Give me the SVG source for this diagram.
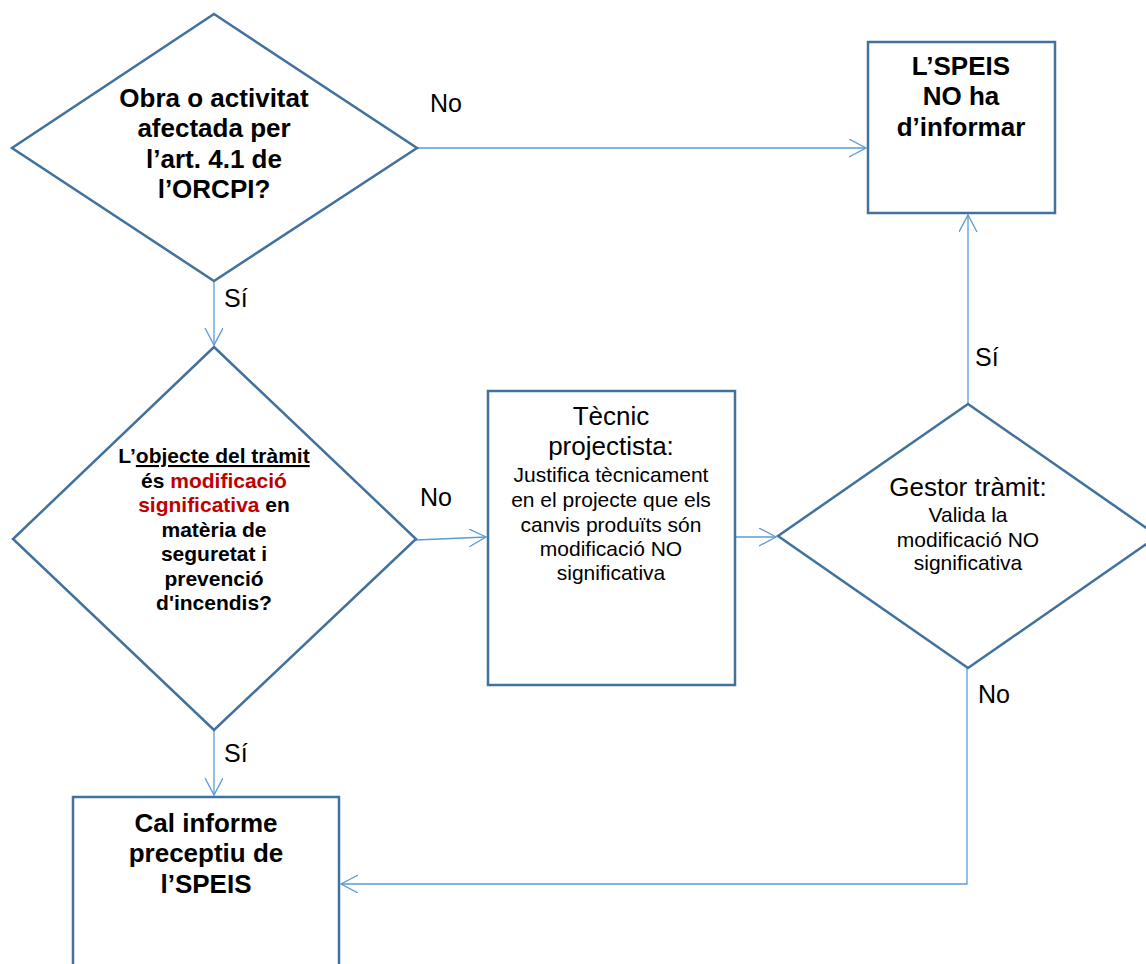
<svg xmlns="http://www.w3.org/2000/svg" width="1146" height="964" viewBox="0 0 1146 964">
<defs>
<style>
.node{fill:#FFFFFF;stroke:#41719C;stroke-width:2.5}
.conn{fill:none;stroke:#5B9BD5;stroke-width:1.3}
.t{font-family:"Liberation Sans",Arial,sans-serif;fill:#000000}
.hb{font-size:26px;font-weight:bold;text-anchor:middle}
.sb{font-size:21px;font-weight:bold;text-anchor:middle}
.h{font-size:26px;text-anchor:middle}
.s{font-size:21px;text-anchor:middle}
.lbl{font-size:25px}
.red{fill:#C00000}
</style>
<marker id="arr" markerUnits="userSpaceOnUse" markerWidth="20" markerHeight="20" refX="17" refY="9" orient="auto" viewBox="0 0 20 20">
<path d="M0,0 L17,9 L0,18" fill="none" stroke="#5B9BD5" stroke-width="1.3"/>
</marker>
</defs>
<rect width="1146" height="964" fill="#FFFFFF"/>

<g id="connectors">
<line class="conn" x1="417" y1="148" x2="866" y2="148" marker-end="url(#arr)"/>
<line class="conn" x1="214" y1="281" x2="214" y2="345" marker-end="url(#arr)"/>
<line class="conn" x1="416" y1="540" x2="486" y2="537" marker-end="url(#arr)"/>
<line class="conn" x1="735" y1="537" x2="776" y2="537" marker-end="url(#arr)"/>
<line class="conn" x1="968" y1="404" x2="968" y2="215" marker-end="url(#arr)"/>
<polyline class="conn" points="967,668 967,884 341,884" marker-end="url(#arr)"/>
<line class="conn" x1="214" y1="730" x2="214" y2="795" marker-end="url(#arr)"/>
<text class="t lbl" x="430" y="112">No</text>
<text class="t lbl" x="224" y="307">Sí</text>
<text class="t lbl" x="420" y="506">No</text>
<text class="t lbl" x="975" y="366">Sí</text>
<text class="t lbl" x="978" y="703">No</text>
<text class="t lbl" x="224" y="762">Sí</text>
</g>

<g id="decision-obra">
<polygon class="node" points="214,14 417,148 214,281 12,148"/>
<text class="t hb" x="214" y="107">Obra o activitat</text>
<text class="t hb" x="214" y="137">afectada per</text>
<text class="t hb" x="214" y="168">l’art. 4.1 de</text>
<text class="t hb" x="214" y="198">l’ORCPI?</text>
</g>

<g id="box-no-informar">
<rect class="node" x="868" y="42" width="187" height="171"/>
<text class="t hb" x="961" y="75">L’SPEIS</text>
<text class="t hb" x="961" y="105">NO ha</text>
<text class="t hb" x="961" y="136">d’informar</text>
</g>

<g id="decision-modificacio">
<polygon class="node" points="214,347 416,539 214,730 13,539"/>
<text class="t sb" x="214" y="463">L’<tspan text-decoration="underline">objecte del tràmit</tspan></text>
<text class="t sb" x="214" y="488">és <tspan class="red">modificació</tspan></text>
<text class="t sb" x="214" y="512"><tspan class="red">significativa</tspan> en</text>
<text class="t sb" x="214" y="537">matèria de</text>
<text class="t sb" x="214" y="561">seguretat i</text>
<text class="t sb" x="214" y="586">prevenció</text>
<text class="t sb" x="214" y="610">d'incendis?</text>
</g>

<g id="box-tecnic">
<rect class="node" x="488" y="391" width="247" height="294"/>
<text class="t h" x="611" y="425">Tècnic</text>
<text class="t h" x="611" y="455">projectista:</text>
<text class="t s" x="611" y="482">Justifica tècnicament</text>
<text class="t s" x="611" y="507">en el projecte que els</text>
<text class="t s" x="611" y="532">canvis produïts són</text>
<text class="t s" x="611" y="556">modificació NO</text>
<text class="t s" x="611" y="580">significativa</text>
</g>

<g id="decision-gestor">
<polygon class="node" points="968,404 1158,536 968,668 778,536"/>
<text class="t h" x="968" y="496">Gestor tràmit:</text>
<text class="t s" x="968" y="522">Valida la</text>
<text class="t s" x="968" y="547">modificació NO</text>
<text class="t s" x="968" y="570">significativa</text>
</g>

<g id="box-cal-informe">
<rect class="node" x="73" y="797" width="266" height="200"/>
<text class="t hb" x="206" y="832">Cal informe</text>
<text class="t hb" x="206" y="862">preceptiu de</text>
<text class="t hb" x="206" y="893">l’SPEIS</text>
</g>
</svg>
